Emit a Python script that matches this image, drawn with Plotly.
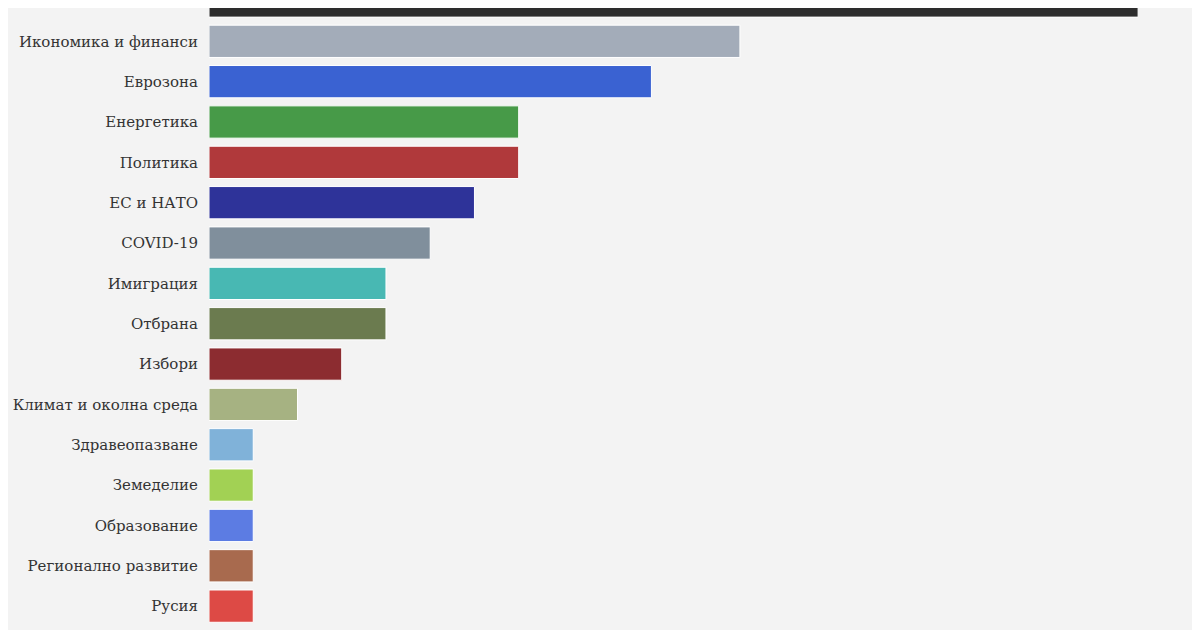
import plotly.graph_objects as go

categories = ["Войната в Украйна", "Икономика и финанси", "Еврозона", "Енергетика", "Политика",
              "ЕС и НАТО", "COVID-19", "Имиграция", "Отбрана", "Избори", "Климат и околна среда",
              "Здравеопазване", "Земеделие", "Образование", "Регионално развитие", "Русия"]
values = [21, 12, 10, 7, 7, 6, 5, 4, 4, 3, 2, 1, 1, 1, 1, 1]
colors = ["#2d2d2d", "#a3acb9", "#3a62d2", "#479a48", "#b0393b", "#2e3399", "#808f9c", "#48b8b3",
          "#6b7b4f", "#8c2c30", "#a6b282", "#80b2d9", "#a2d154", "#5c7ce3", "#a86a4e", "#dd4a45"]

fig = go.Figure(go.Bar(
    x=values, y=categories, orientation="h",
    marker=dict(color=colors, line=dict(color="#ffffff", width=1)),
    width=0.8, hoverinfo="x+y"))

fig.update_layout(
    width=1200, height=630, paper_bgcolor="#f3f3f3", plot_bgcolor="#f3f3f3",
    margin=dict(l=201, r=0, t=0, b=0), showlegend=False,
    font=dict(family="DejaVu Serif", size=15, color="#333333"),
    xaxis=dict(range=[0, 22.58], visible=False),
    yaxis=dict(categoryorder="array", categoryarray=categories, range=[15.79, 0.174],
               showgrid=False, ticks="", ticklabelstandoff=10, zeroline=False),
)
fig.write_html("out.html")
